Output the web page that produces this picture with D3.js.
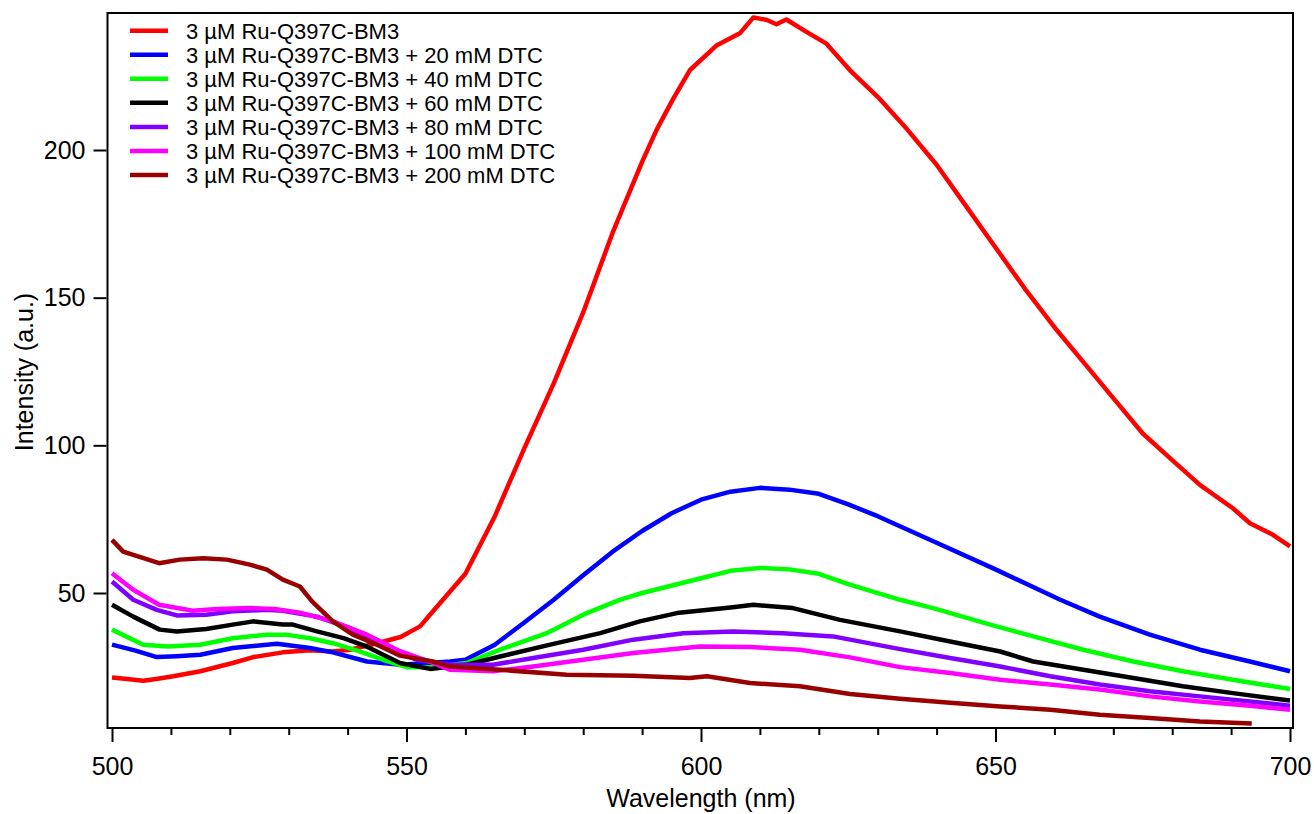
<!DOCTYPE html>
<html>
<head>
<meta charset="utf-8">
<script src="https://cdnjs.cloudflare.com/ajax/libs/d3/7.8.5/d3.min.js"></script>
<style>
    body { margin: 0; background: #fff; }
    #chart-area text { font-family: "Liberation Sans", Arial, sans-serif; fill: #000; }
    .axis line { stroke: #000; stroke-width: 2; }
</style>
</head>
<body>
<div id="chart-area"></div>
<script>

// wavelength (nm), intensity (a.u.)
const ruOnly = [[500,21.4],[503,20.8],[505.3,20.3],[507.5,20.9],[510.4,21.8],[515,23.5],[520.5,26.3],[524,28.3],[529,29.9],[533.6,30.6],[537.5,30.2],[540.4,30.8],[545,33],[549,35.1],[552.3,38.7],[554.5,43.8],[557.4,50.5],[560,56.5],[565,76],[570,99],[575,121],[580,145],[585,172],[590,196],[592.5,207],[595.3,217.4],[598.1,227],[602.7,235.5],[606.6,239.5],[608.9,244.9],[611.2,244],[612.8,242.6],[614.5,244.2],[617.9,240],[621.3,236],[625.3,227],[630,218],[635,207],[640,195],[645,181],[650,167],[655,153],[660,140],[665,128],[670,116],[675,104],[680,95],[684.7,86.6],[690.3,78.7],[693.2,73.6],[697.1,69.7],[700,65.8]];
const dtc20 = [[500,32.5],[504,30.5],[507.6,28.3],[511,28.6],[515,29.1],[520.5,31.4],[528,32.8],[533.6,31.4],[537.5,29.9],[543.3,26.8],[549,25.7],[553,26.2],[557.4,26.8],[560,27.4],[565,32.5],[570,40],[575,47.7],[580,56],[585,64],[590,71],[595,77],[600,81.6],[605,84.3],[610,85.6],[615,85],[620,83.6],[625,80],[630,76],[640,67],[650,58],[661,47.7],[667.7,42],[676.2,35.9],[684.7,30.8],[693.2,26.8],[700,23.5]];
const dtc40 = [[500,37.6],[505.3,32.5],[509.5,31.9],[515,32.5],[520.5,34.7],[526.2,35.9],[529.5,35.9],[533.6,34.7],[537.5,33],[542,30.2],[546,27.4],[550,24.9],[554.5,24.9],[560.2,26.3],[565.9,30.8],[573.8,36.4],[580.6,43.2],[586.2,47.7],[590,50],[600,55],[605,57.5],[610,58.5],[615,58],[620,56.5],[625,53],[633.8,47.7],[639.4,44.9],[649.1,39.3],[656.4,35.3],[664.9,30.8],[673.4,26.8],[681.8,23.5],[690.3,20.6],[700,17.5]];
const dtc60 = [[500,46],[503.6,42],[508.1,37.6],[511,37],[516,37.8],[520.5,39.3],[524,40.4],[529,39.3],[530.7,39.3],[534.8,37],[539.3,34.7],[543.2,31.9],[548.9,26.3],[554,24.3],[560.2,25.7],[565.9,28.5],[574.4,32.5],[582.9,36.4],[589.6,40.4],[595.9,43.2],[605.4,45.2],[608.9,46],[615.6,44.9],[623.6,40.9],[633.8,37],[642.3,33.6],[650.8,30.2],[656.4,26.8],[664.9,24],[673.4,21.2],[681.8,18.4],[690.3,16.1],[700,13.6]];
const dtc80 = [[500,53.9],[503.6,47.7],[507.6,44.3],[511,42.4],[516,42.6],[520.5,43.8],[526.2,44.3],[529,44],[534.8,42],[540.4,38.1],[546,31.9],[551.7,27.4],[557.4,25.7],[564.7,25.7],[571.5,28],[580,30.8],[588.5,34.2],[597,36.4],[605.4,37],[613.9,36.4],[622.4,35.3],[625.3,34.2],[633.8,31],[642.3,28],[650.8,25.1],[659.3,21.8],[667.7,19],[676.2,16.7],[684.7,15],[693.2,13.3],[700,11.8]];
const dtc100 = [[500,56.7],[503.6,51.1],[508,46],[513.7,44],[517.8,44.6],[523.6,44.9],[527.6,44.6],[532.2,43.2],[537.5,40.4],[543.3,35.9],[549,30.2],[554.5,26.3],[557.4,24],[564.7,23.5],[571.5,25.1],[580,27.4],[588.5,29.7],[599.8,31.9],[608.3,31.7],[616.8,30.8],[625.3,28.2],[633.8,24.9],[642.3,22.9],[650.8,20.6],[659.3,19],[667.7,17.3],[676.2,15],[684.7,13.3],[693.2,11.8],[700,10.5]];
const dtc200 = [[500,68],[501.9,64],[508,60.1],[511.5,61.3],[515.5,61.8],[519.5,61.3],[523.4,59.6],[526.3,57.9],[529,54.5],[531.9,52.2],[534,47.1],[537.5,40.4],[540.9,35.9],[545,32.5],[548.9,28.8],[554.5,26.8],[557.4,25.1],[565.9,24],[577.2,22.3],[588.5,22],[598.1,21.2],[601,21.8],[608.3,19.5],[616.8,18.4],[625.3,15.8],[633.8,14.2],[642.3,12.8],[650.8,11.6],[659.3,10.5],[667.7,8.8],[676.2,7.7],[684.7,6.5],[693.5,5.8]];

const seriesNames = ["3 µM Ru-Q397C-BM3", "3 µM Ru-Q397C-BM3 + 20 mM DTC", "3 µM Ru-Q397C-BM3 + 40 mM DTC",
    "3 µM Ru-Q397C-BM3 + 60 mM DTC", "3 µM Ru-Q397C-BM3 + 80 mM DTC", "3 µM Ru-Q397C-BM3 + 100 mM DTC",
    "3 µM Ru-Q397C-BM3 + 200 mM DTC"];
const seriesColors = ["#ff0000", "#0000ff", "#00ff00", "#000000", "#8000ff", "#ff00ff", "#990000"];
const seriesValues = [ruOnly, dtc20, dtc40, dtc60, dtc80, dtc100, dtc200];

const xMajorTicks = [500, 550, 600, 650, 700];
const xMinorTicks = [510, 520, 530, 540, 560, 570, 580, 590, 610, 620, 630, 640, 660, 670, 680, 690];
const yTicks = [50, 100, 150, 200];


class emissionSpectra {
    constructor(parentContainer, displayData) {
        this.parentContainer = parentContainer;
        this.displayData = displayData;

        this.initVis();
    }

    initVis() {
        let vis = this;

        vis.width = 1314;
        vis.height = 814;
        // plot frame
        vis.frame = {left: 107.5, right: 1293, top: 13, bottom: 728};

        vis.svg = d3.select("#" + vis.parentContainer)
            .append("svg")
            .attr("width", vis.width)
            .attr("height", vis.height);

        vis.xScale = d3.scaleLinear()
            .domain([500, 700])
            .range([112, 1290]);

        vis.yScale = d3.scaleLinear()
            .domain([50, 200])
            .range([593, 150]);

        vis.svg.append("clipPath")
            .attr("id", "plot-clip")
            .append("rect")
            .attr("x", vis.frame.left)
            .attr("y", vis.frame.top)
            .attr("width", vis.frame.right - vis.frame.left)
            .attr("height", vis.frame.bottom - vis.frame.top);

        vis.lineGroup = vis.svg.append("g")
            .attr("clip-path", "url(#plot-clip)");

        vis.xAxis = vis.svg.append("g").attr("class", "axis x-axis");
        vis.xAxisMinor = vis.svg.append("g").attr("class", "axis x-axis-minor");
        vis.yAxis = vis.svg.append("g").attr("class", "axis y-axis");

        vis.legend = vis.svg.append("g").attr("class", "legend");

        vis.wrangleData();
    }

    wrangleData() {
        let vis = this;

        vis.lines = seriesNames.map((name, i) => ({
            name: name,
            color: seriesColors[i],
            values: vis.displayData[i].map(d => ({nm: d[0], value: d[1]}))
        }));

        vis.updateVis();
    }

    updateVis() {
        let vis = this;

        const line = d3.line()
            .x(d => vis.xScale(d.nm))
            .y(d => vis.yScale(d.value));

        vis.lineGroup.selectAll(".spectrum")
            .data(vis.lines)
            .enter().append("path")
            .attr("class", "spectrum")
            .attr("d", d => line(d.values))
            .attr("fill", "none")
            .attr("stroke", d => d.color)
            .attr("stroke-width", 4.5)
            .attr("stroke-linejoin", "round");

        // frame
        vis.svg.append("rect")
            .attr("x", vis.frame.left)
            .attr("y", vis.frame.top)
            .attr("width", vis.frame.right - vis.frame.left)
            .attr("height", vis.frame.bottom - vis.frame.top)
            .attr("fill", "none")
            .attr("stroke", "#000")
            .attr("stroke-width", 2);

        vis.xAxis
            .attr("transform", `translate(0,${vis.frame.bottom + 1})`)
            .call(d3.axisBottom(vis.xScale).tickValues(xMajorTicks).tickSize(13).tickPadding(15))
            .call(g => g.select(".domain").remove());

        vis.xAxisMinor
            .attr("transform", `translate(0,${vis.frame.bottom + 1})`)
            .call(d3.axisBottom(vis.xScale).tickValues(xMinorTicks).tickSize(6).tickFormat(""))
            .call(g => g.select(".domain").remove());

        vis.yAxis
            .attr("transform", `translate(${vis.frame.left - 1},0)`)
            .call(d3.axisLeft(vis.yScale).tickValues(yTicks).tickSize(13).tickPadding(8))
            .call(g => g.select(".domain").remove());

        vis.svg.selectAll(".axis text")
            .attr("font-size", 25)
            .attr("font-family", "Liberation Sans, Arial, sans-serif");

        vis.svg.append("text")
            .attr("class", "axis-text")
            .attr("x", 701)
            .attr("y", 807)
            .attr("font-size", 25)
            .style("text-anchor", "middle")
            .text("Wavelength (nm)");

        vis.svg.append("text")
            .attr("class", "axis-text")
            .attr("transform", "translate(33, 372) rotate(-90)")
            .attr("font-size", 25)
            .style("text-anchor", "middle")
            .text("Intensity (a.u.)");

        // legend
        let rows = vis.legend.selectAll(".legend-row")
            .data(vis.lines)
            .enter().append("g")
            .attr("class", "legend-row")
            .attr("transform", (d, i) => `translate(130, ${30.7 + i * 24.05})`);

        rows.append("line")
            .attr("x1", 0)
            .attr("x2", 38)
            .attr("stroke", d => d.color)
            .attr("stroke-width", 4.5);

        rows.append("text")
            .attr("x", 56)
            .attr("dy", "0.36em")
            .attr("font-size", 22)
            .text(d => d.name);
    }
}

new emissionSpectra("chart-area", seriesValues);
</script>
</body>
</html>
